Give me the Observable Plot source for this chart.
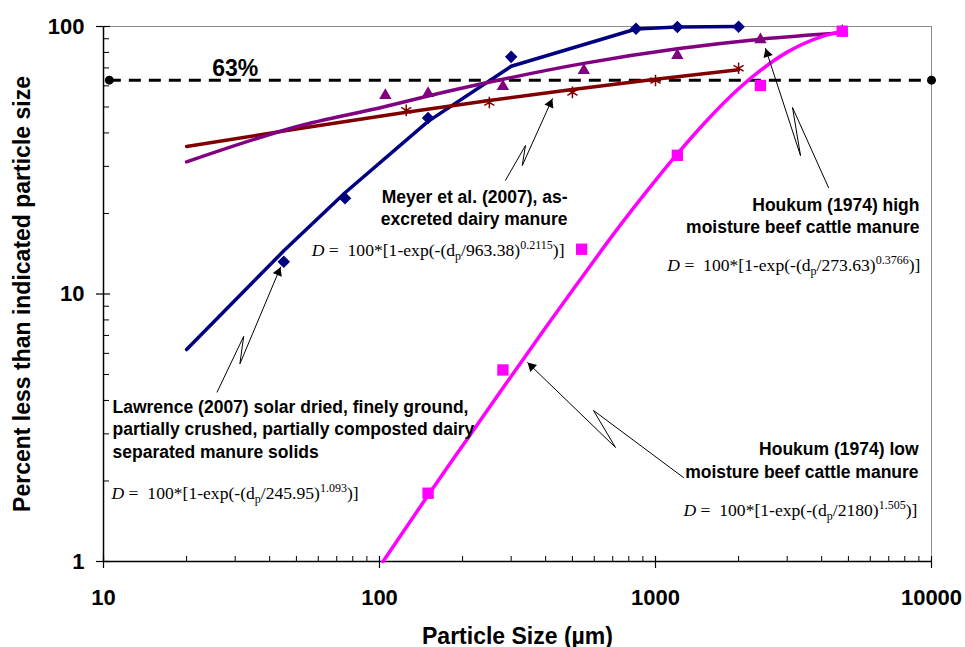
<!DOCTYPE html>
<html><head><meta charset="utf-8">
<script src="https://cdn.jsdelivr.net/npm/d3@7"></script>
<script src="https://cdn.jsdelivr.net/npm/@observablehq/plot@0.6"></script>
<style>body{margin:0;background:#fff} svg{display:block}</style>
</head><body><div id="chart"></div>
<script>
// ---- data ----
const xTicksMajor = [10, 100, 1000, 10000];
const xTicksMinor = [20,30,40,50,60,70,80,90,200,300,400,500,600,700,800,900,2000,3000,4000,5000,6000,7000,8000,9000];
const yTicksMajor = [1, 10, 100];
const yTicksMinor = [2,3,4,5,6,7,8,9,20,30,40,50,60,70,80,90];

// Lawrence (2007) – navy diamonds + fitted curve
const lawX = [45, 75, 150, 300, 850, 1200, 2000];
const lawY = [13.2, 22.8, 45.5, 77, 98, 99.5, 99.8];
const lawCurveX = [20, 45, 75, 150, 300, 850, 1200, 2000];
const lawCurveY = [6.2, 14.5, 23.9, 44.2, 71, 97.9, 99.6, 100];

// Meyer et al. (2007) – dark red asterisks + fitted curve
const meyX = [125, 250, 500, 1000, 2000];
const meyY = [48.6, 52, 56.7, 62.8, 69.8];
const meyCurveX = [20, 50, 125, 250, 500, 1000, 2000];
const meyCurveY = [35.6, 41.4, 47.8, 52.9, 58.1, 63.5, 68.9];

// Houkum (1974) high moisture – purple triangles + fitted curve
const hiX = [105, 150, 280, 550, 1200, 2400, 4750];
const hiY = [55.3, 56.2, 59.7, 68.5, 78, 89.2, 96];
const hiCurveX = [20, 50, 105, 150, 280, 550, 1200, 2400, 4750];
const hiCurveY = [31.2, 42.2, 50.2, 55.0, 63.5, 72.8, 82.5, 89.6, 94.7];

// Houkum (1974) low moisture – magenta squares + fitted curve
const loX = [150, 280, 540, 1200, 2400, 4750];
const loY = [1.8, 5.2, 14.7, 33, 60.2, 96];
const loCurveX = [103, 150, 200, 280, 400, 550, 700, 1000, 1200, 1500, 2000, 2400, 3000, 4000, 4750];
const loCurveY = [1.0, 1.77, 2.71, 4.45, 7.5, 11.8, 16.6, 26.6, 33.4, 43.4, 58.5, 68.5, 80.2, 91.7, 96.0];

// 63% reference
const refY = 63;
const refX = [10.5, 10000];
const refLabel = "63%";
const refLabelX = 30;

// annotation labels
const labels = [
  {x: 10.78, y: 3.155, anchor: "start", text: "Lawrence (2007) solar dried, finely ground,\npartially crushed, partially composted dairy\nseparated manure solids"},
  {x: 480, y: 21.2, anchor: "end", text: "Meyer et al. (2007), as-\nexcreted dairy manure"},
  {x: 9048, y: 19.74, anchor: "end", text: "Houkum (1974) high\nmoisture beef cattle manure"},
  {x: 8977, y: 2.416, anchor: "end", text: "Houkum (1974) low\nmoisture beef cattle manure"}
];
const formulaScale = ["245.95", "963.38", "273.63", "2180"];
const formulaShape = ["1.093", "0.2115", "0.3766", "1.505"];
const formulaX = [10.69, 468, 9120, 8890];
const formulaY = [1.796, 14.54, 12.78, 1.551];
const formulaAnchor = ["start", "end", "end", "end"];

// annotation arrows (zig-zag leader lines, last point = arrow tip)
const lawArrowX = [25.8, 32.2, 31.2, 43.8], lawArrowY = [4.30, 6.94, 5.48, 12.6];
const meyArrowX = [286, 338, 329, 423],     meyArrowY = [26.6, 35.9, 30.2, 53.7];
const hiArrowX  = [4235, 3136, 3353, 2504], hiArrowY  = [25.0, 49.8, 32.9, 82.8];
const loArrowX  = [1263, 596, 716, 344],    loArrowY  = [2.06, 3.67, 2.67, 5.54];

const xTitle = "Particle Size (\u00b5m)";
const yTitle = "Percent less than indicated particle size";

// ---- layout ----
const W = 965, H = 647, mL = 103, mR = 34, mT = 26, mB = 86;
const plotW = W - mL - mR, plotH = H - mT - mB;
const kx = plotW / 3, ky = plotH / 2;
const headR = 3.6;

const pts = (xs, ys) => xs.map((x, i) => ({x, y: ys[i]}));
const arrows = [[lawArrowX, lawArrowY], [meyArrowX, meyArrowY], [hiArrowX, hiArrowY], [loArrowX, loArrowY]];
function arrowHead([xs, ys]) {
  const n = xs.length;
  const x0 = xs[n-2], y0 = ys[n-2], x1 = xs[n-1], y1 = ys[n-1];
  const px = kx * Math.log10(x1 / x0), py = -ky * Math.log10(y1 / y0);
  const L = Math.hypot(px, py), ux = px / L, uy = py / L;
  const back = 2 * Math.sqrt(Math.PI * headR * headR / (3 * Math.sqrt(3)));
  return {x: x1 * 10 ** (-ux * back / kx), y: y1 * 10 ** (uy * back / ky), rotate: Math.atan2(ux, -uy) * 180 / Math.PI};
}
const heads = arrows.map(arrowHead);
const formulas = formulaScale.map((s, i) => ({
  x: formulaX[i], y: formulaY[i], anchor: formulaAnchor[i],
  text: `D =\u00a0 100*[1-exp(-(d_p/${s})^${formulaShape[i]})]`
}));

const sans = "'Liberation Sans', Arial, sans-serif";
const serif = "'Liberation Serif', 'Times New Roman', serif";
const C = {law: "#000080", mey: "#800000", hi: "#800080", lo: "#ff00ff"};

const labelMarks = ["start", "end"].flatMap(a => [
  Plot.text(labels.filter(d => d.anchor === a), {x: "x", y: "y", text: "text", textAnchor: a, lineAnchor: "middle", fontSize: 17.5, fontWeight: "bold", lineHeight: 1.29, fill: "#000"}),
  Plot.text(formulas.filter(d => d.anchor === a), {x: "x", y: "y", text: "text", textAnchor: a, lineAnchor: "middle", fontSize: 17.6, fontFamily: serif, fill: "#000"})
]);

const chart = Plot.plot({
  width: W, height: H, marginLeft: mL, marginRight: mR, marginTop: mT, marginBottom: mB,
  style: {fontFamily: sans, background: "#fff", overflow: "visible"},
  x: {type: "log", domain: [10, 10000], axis: null},
  y: {type: "log", domain: [1, 100], axis: null},
  marks: [
    // frame
    Plot.ruleY([100], {stroke: "#8c8c8c", strokeWidth: 1}),
    Plot.ruleX([10000], {stroke: "#8c8c8c", strokeWidth: 1}),
    Plot.ruleX([10], {stroke: "#000", strokeWidth: 1.5}),
    Plot.ruleY([1], {stroke: "#000", strokeWidth: 1.5}),
    // ticks
    Plot.tickX(xTicksMinor, {x: d => d, insetTop: plotH - 5, stroke: "#000", strokeWidth: 1}),
    Plot.tickX(xTicksMajor, {x: d => d, insetTop: plotH - 5, insetBottom: -7, stroke: "#000", strokeWidth: 1.2}),
    Plot.tickY(yTicksMinor, {y: d => d, insetRight: plotW - 6, stroke: "#000", strokeWidth: 1}),
    Plot.tickY(yTicksMajor, {y: d => d, insetRight: plotW - 7, insetLeft: -7, stroke: "#000", strokeWidth: 1.2}),
    Plot.axisX(xTicksMajor, {tickSize: 0, tickPadding: 28, fontSize: 22, fontWeight: "bold", tickFormat: d => String(d), label: null}),
    Plot.axisY(yTicksMajor, {tickSize: 0, tickPadding: 19, fontSize: 22, fontWeight: "bold", tickFormat: d => String(d), label: null}),
    // titles
    Plot.text([xTitle], {frameAnchor: "bottom", dy: 75, textAnchor: "middle", fontSize: 23, fontWeight: "bold", lineAnchor: "middle"}),
    Plot.text([yTitle], {frameAnchor: "left", dx: -81, rotate: -90, textAnchor: "middle", fontSize: 23, fontWeight: "bold", lineAnchor: "middle"}),
    // 63% reference
    Plot.ruleY([refY], {x1: refX[0], x2: refX[1], stroke: "#000", strokeWidth: 3, strokeDasharray: "12,8"}),
    Plot.dot(refX, {x: d => d, y: () => refY, r: 4.5, fill: "#000"}),
    Plot.text([refLabel], {x: () => refLabelX, y: () => refY, dy: -12, fontSize: 23, fontWeight: "bold"}),
    // fitted curves
    Plot.line(pts(lawCurveX, lawCurveY), {x: "x", y: "y", stroke: C.law, strokeWidth: 3.5, curve: "linear"}),
    Plot.line(pts(meyCurveX, meyCurveY), {x: "x", y: "y", stroke: C.mey, strokeWidth: 3.5, curve: "monotone-x"}),
    Plot.line(pts(hiCurveX, hiCurveY), {x: "x", y: "y", stroke: C.hi, strokeWidth: 3.5, curve: "monotone-x"}),
    Plot.line(pts(loCurveX, loCurveY), {x: "x", y: "y", stroke: C.lo, strokeWidth: 3.5, curve: "monotone-x"}),
    // data markers
    Plot.dot(pts(lawX, lawY), {x: "x", y: "y", symbol: "square", rotate: 45, r: 5, fill: C.law}),
    Plot.dot(pts(meyX, meyY), {x: "x", y: "y", symbol: "asterisk", r: 5.5, stroke: C.mey, strokeWidth: 1.5}),
    Plot.dot(pts(hiX, hiY), {x: "x", y: "y", symbol: "triangle", r: 4.6, fill: C.hi}),
    Plot.dot(pts(loX, loY), {x: "x", y: "y", symbol: "square", r: 6.4, fill: C.lo}),
    // arrows
    ...arrows.map(([xs, ys]) => Plot.line(pts(xs, ys), {x: "x", y: "y", stroke: "#000", strokeWidth: 1})),
    Plot.dot(heads, {x: "x", y: "y", rotate: "rotate", symbol: "triangle", r: headR, fill: "#000"}),
    // labels
    ...labelMarks
  ]
});

// typeset sub/superscripts of the formulas
chart.querySelectorAll("text").forEach(t => {
  const m = t.textContent.match(/^D(.*\(d)_p(\/[\d.]+\))\^([\d.]+)(\)\])$/);
  if (!m) return;
  while (t.firstChild) t.removeChild(t.firstChild);
  const ns = "http://www.w3.org/2000/svg";
  const add = (txt, attrs = {}) => {
    const s = document.createElementNS(ns, "tspan");
    for (const k in attrs) s.setAttribute(k, attrs[k]);
    s.textContent = txt;
    t.appendChild(s);
  };
  add("D", {"font-style": "italic"});
  add(m[1]);
  add("p", {"font-size": 12, dy: 4});
  add(m[2], {dy: -4});
  add(m[3], {"font-size": 12, dy: -7});
  add(m[4], {dy: 7});
});

document.getElementById("chart").appendChild(chart);
</script></body></html>
